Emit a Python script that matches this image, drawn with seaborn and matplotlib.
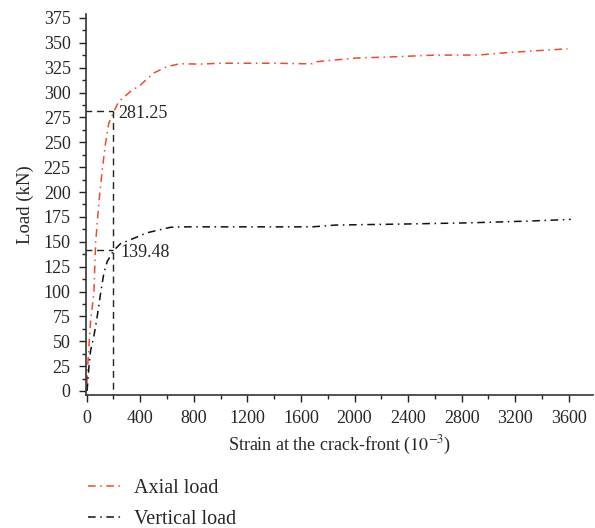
import numpy as np
import pandas as pd
import seaborn as sns
import matplotlib.pyplot as plt
from matplotlib.lines import Line2D

# --- Data ---
axial_strain = [2, 5, 17, 30, 54, 67, 91, 116, 141, 165, 203, 240, 326, 400, 500,
                598, 697, 846, 1000, 1166, 1400, 1610, 1684, 1714, 2010, 2300,
                2604, 2923, 3094, 3350, 3591]
axial_load = [8, 18, 45, 71, 98, 149, 189, 222, 249, 269, 281, 291, 301, 307.5, 319.6,
              326, 329, 328.6, 329.5, 329.5, 329.5, 329, 329, 331, 334.7, 336,
              337.7, 337.7, 339.7, 342, 344]

vertical_strain = [3, 5, 17, 30, 54, 79, 104, 128, 153, 200, 252, 326, 450, 623,
                   697, 1200, 1684, 1860, 2352, 2849, 3344, 3614]
vertical_load = [0, 3, 24, 41, 55, 75, 98, 118, 130, 141, 148, 152, 159, 164.5,
                 165, 165, 165, 166.8, 167.8, 169, 171, 172.5]

guide_strain = 200
axial_mark = 281.25
vertical_mark = 139.48
vertical_mark_line = 142

x_ticks = np.arange(0, 3601, 400)
y_ticks = np.arange(0, 376, 25)

df = pd.concat([
    pd.DataFrame({"strain": axial_strain, "load": axial_load, "series": "Axial load"}),
    pd.DataFrame({"strain": vertical_strain, "load": vertical_load, "series": "Vertical load"}),
], ignore_index=True)

# --- Style ---
sns.set_theme(style="ticks")
plt.rcParams['font.family'] = ['Liberation Serif', 'DejaVu Serif']
plt.rcParams['mathtext.fontset'] = 'stix'

fig = plt.figure(figsize=(5.95, 5.28), dpi=100)
ax = fig.add_axes([0.1445, 0.252, 0.852, 0.7215])

palette = {"Axial load": "#ef4a2c", "Vertical load": "#111111"}
sns.lineplot(data=df, x="strain", y="load", hue="series", palette=palette,
             sort=False, estimator=None, lw=1.1, ax=ax, legend=False)
for line in ax.lines:
    line.set_dashes((5, 3, 1, 3))

# guide lines
guide = dict(color="#222222", lw=1.0, dashes=(5, 3.5), clip_on=True)
ax.plot([-100, guide_strain], [axial_mark, axial_mark], **guide)
ax.plot([-100, guide_strain], [vertical_mark_line, vertical_mark_line], **guide)
ax.plot([guide_strain, guide_strain], [-10, axial_mark], **guide)
ax.text(guide_strain + 33, axial_mark - 2, f"{axial_mark:.2f}", fontsize=13,
        va="center", ha="left")
ax.text(guide_strain + 50, vertical_mark, f"{vertical_mark:.2f}", fontsize=13,
        va="center", ha="left")

ax.set_xlim(-5, 3780)
ax.set_ylim(-4, 379)
ax.set_xticks(x_ticks)
ax.set_xticks(np.arange(200, 3700, 400), minor=True)
ax.set_yticks(y_ticks)
ax.set_yticks(np.arange(12.5, 376, 25), minor=True)
ax.tick_params(axis="both", which="major", length=5, width=1, labelsize=13,
               color="#222222", direction="out", pad=6)
ax.tick_params(axis="both", which="minor", length=3, width=1, color="#222222")
for s in ["left", "bottom"]:
    ax.spines[s].set_linewidth(1.2)
    ax.spines[s].set_color("#333333")
sns.despine(ax=ax)

ax.set_xlabel("Strain at the crack-front ($10^{-3}$)", fontsize=13, labelpad=5)
ax.set_ylabel("Load (kN)", fontsize=13.5, labelpad=7)

handles = [Line2D([], [], color=palette[k], lw=1.1, dashes=(5, 3, 1, 3)) for k in palette]
ax.legend(handles, list(palette), loc="upper left", bbox_to_anchor=(-0.012, -0.2),
          frameon=False, fontsize=14.5, handlelength=1.7, handletextpad=0.6,
          labelspacing=0.58, borderaxespad=0)

fig.savefig("out.png", dpi=100)
